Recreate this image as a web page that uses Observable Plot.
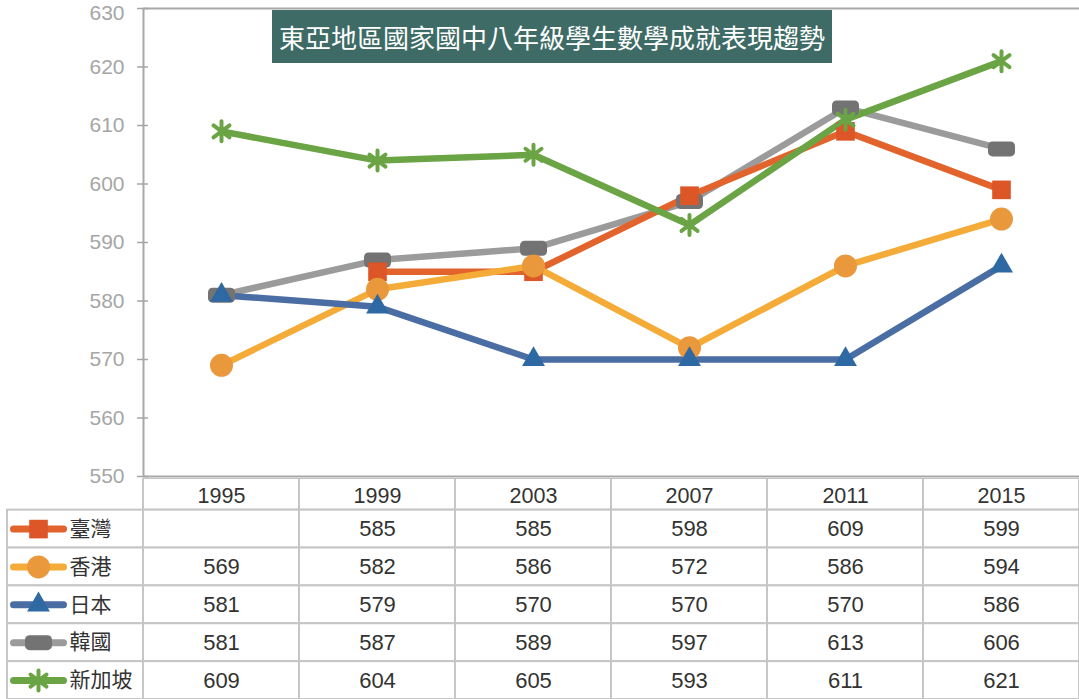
<!DOCTYPE html>
<html><head><meta charset="utf-8">
<script src="https://cdn.jsdelivr.net/npm/d3@7"></script>
<script src="https://cdn.jsdelivr.net/npm/@observablehq/plot@0.6"></script>
<style>
body{margin:0;background:#fff;}
#wrap{position:relative;width:1079px;height:699px;overflow:hidden;background:#fff;}
#chart{position:absolute;left:0;top:0;}
#table{position:absolute;left:0;top:478px;}
#title{position:absolute;left:272px;top:10px;width:560px;height:53px;background:#3e6b66;color:#fff;font-family:"Noto Sans CJK TC","Noto Sans CJK SC",sans-serif;font-size:26px;line-height:53px;text-align:center;white-space:nowrap;}
</style></head>
<body><div id="wrap"><div id="chart"></div><div id="table"></div><div id="title">東亞地區國家國中八年級學生數學成就表現趨勢</div></div>
<script>
const years = ["1995","1999","2003","2007","2011","2015"];
const countries = ["臺灣","香港","日本","韓國","新加坡"];
const taiwan = [null,585,585,598,609,599];
const hongkong = [569,582,586,572,586,594];
const japan = [581,579,570,570,570,586];
const korea = [581,587,589,597,613,606];
const singapore = [609,604,605,593,611,621];
const yTicks = [550,560,570,580,590,600,610,620,630];

const pill = {draw(ctx, size){ const w=13.5, h=7.5, r=4.5;
  ctx.moveTo(-w+r,-h); ctx.lineTo(w-r,-h); ctx.arcTo(w,-h,w,-h+r,r); ctx.lineTo(w,h-r);
  ctx.arcTo(w,h,w-r,h,r); ctx.lineTo(-w+r,h); ctx.arcTo(-w,h,-w,h-r,r); ctx.lineTo(-w,-h+r);
  ctx.arcTo(-w,-h,-w+r,-h,r); ctx.closePath(); }};
const star = {draw(ctx, size){ const a=10, b=8;
  ctx.moveTo(0,-a); ctx.lineTo(0,a);
  ctx.moveTo(-b,-b*0.75); ctx.lineTo(b,b*0.75);
  ctx.moveTo(-b,b*0.75); ctx.lineTo(b,-b*0.75); }};

const series = [
  {name:"臺灣", values:taiwan, line:"#e2632c", fill:"#dd5627", symbol:"square", r:10.5},
  {name:"香港", values:hongkong, line:"#f5ab38", fill:"#e9983c", symbol:"circle", r:11.5},
  {name:"日本", values:japan, line:"#4a6da3", fill:"#2f69a4", symbol:"triangle", r:8.5},
  {name:"韓國", values:korea, line:"#9b9b9b", fill:"#737373", symbol:pill, r:8},
  {name:"新加坡", values:singapore, line:"#6aa444", fill:"#6aa444", symbol:star, r:10, stroked:true}
];
const drawOrder = [3,0,1,2,4];

function rows(s){ return years.map((yr,i)=>({country:s.name, year:yr, value:s.values[i]})); }
function markerOpts(s){
  return s.stroked ? {symbol:s.symbol, r:s.r, stroke:s.fill, fill:"none", strokeWidth:4, strokeLinecap:"round"}
                   : {symbol:s.symbol, r:s.r, fill:s.fill};
}

const marks = [
  Plot.ruleY([550,630], {stroke:"#a8a8a8", strokeWidth:2}),
  Plot.ruleX([years[0]], {stroke:"#a8a8a8", strokeWidth:2, dx:-78, y1:550, y2:630})
];
for (const k of drawOrder){
  const s = series[k], d = rows(s);
  marks.push(Plot.line(d, {x:"year", y:"value", stroke:s.line, strokeWidth:6.5, strokeLinejoin:"round"}));
}
for (const k of drawOrder){
  const s = series[k], d = rows(s).filter(e=>e.value!=null);
  marks.push(Plot.dot(d, {x:"year", y:"value", ...markerOpts(s)}));
}
const topTick = yTicks[yTicks.length-1];
marks.push(Plot.axisY({ticks:yTicks, tickSize:6, tickPadding:13, fontSize:21, color:"#a6a6a6", strokeWidth:1.5, label:null, tickFormat:t=>t===topTick?"":String(t)}));
marks.push(Plot.axisY({ticks:[topTick], tickSize:0, tickPadding:19, dy:5, fontSize:21, color:"#a6a6a6", label:null}));
marks.push(Plot.axisY({ticks:yTicks, tickSize:-5, tickFormat:()=>"", color:"#a6a6a6", strokeWidth:1.5, label:null}));

const chart = Plot.plot({
  width:1079, height:492, marginLeft:143, marginRight:0, marginTop:8, marginBottom:16,
  style:{fontFamily:"Liberation Sans, Arial, sans-serif", background:"transparent", overflow:"visible"},
  x:{type:"point", domain:years, padding:0.5, axis:null},
  y:{domain:[550,630], axis:null, label:null},
  marks
});
document.getElementById("chart").append(chart);

// table
const L = -(143-7)/156, H = -32/38.3;
const cells = [];
years.forEach((y,i)=>cells.push({x1:i,x2:i+1,y1:H,y2:0}));
countries.forEach((c,r)=>{
  cells.push({x1:L,x2:0,y1:r,y2:r+1});
  years.forEach((y,i)=>cells.push({x1:i,x2:i+1,y1:r,y2:r+1}));
});
const vals = [];
series.forEach((s,r)=>s.values.forEach((v,i)=>{ if(v!=null) vals.push({r,i,v}); }));
const tmarks = [
  Plot.rect(cells, {x1:"x1",x2:"x2",y1:"y1",y2:"y2", fill:"white", stroke:"#c6c6c6", strokeWidth:2}),
  Plot.text(years, {x:(d,i)=>i+0.5, y:()=>H/2, dy:2, text:d=>d, fontSize:21.5, fill:"#333"}),
  Plot.text(vals, {x:d=>d.i+0.5, y:d=>d.r+0.5, text:d=>String(d.v), fontSize:22, fill:"#333"}),
  Plot.link(series, {x1:()=>L+6/156, x2:()=>L+56/156, y1:(d,i)=>i+0.5, y2:(d,i)=>i+0.5, stroke:d=>d.line, strokeWidth:7, strokeLinecap:"round"})
];
series.forEach((s,r)=>{
  tmarks.push(Plot.dot([{r}], {x:()=>L+31/156, y:()=>r+0.5, ...markerOpts(s)}));
});
tmarks.push(Plot.text(countries, {x:()=>L+62/156, y:(d,i)=>i+0.5, text:d=>d, textAnchor:"start", fontSize:21, fill:"#333", fontFamily:"Noto Sans CJK TC"}));

const table = Plot.plot({
  width:1079, height:221, margin:0,
  style:{fontFamily:"Liberation Sans, Arial, sans-serif", background:"transparent"},
  x:{type:"linear", domain:[L,6], range:[7,1079], axis:null},
  y:{type:"linear", domain:[H,5], range:[0,221], axis:null},
  color:{type:"identity"},
  marks: tmarks
});
document.getElementById("table").append(table);
</script>
</body></html>
